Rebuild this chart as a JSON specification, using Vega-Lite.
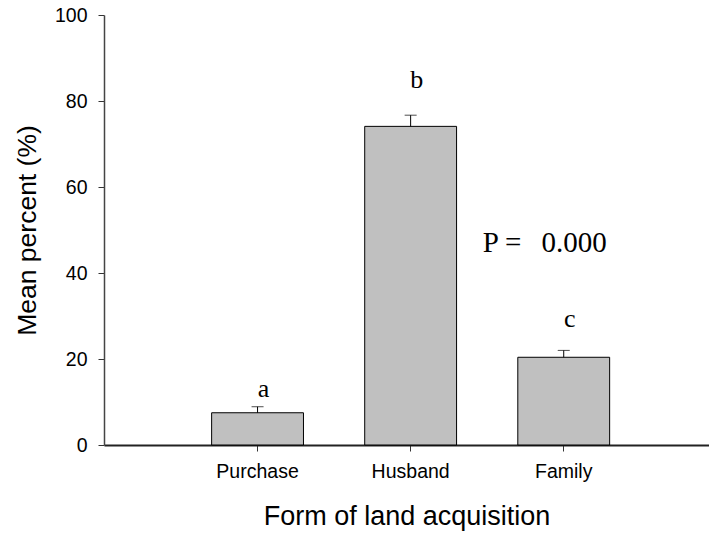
{
  "$schema": "https://vega.github.io/schema/vega-lite/v6.json",
  "width": 605,
  "height": 430,
  "autosize": {"type": "none"},
  "padding": {"left": 104, "top": 15, "right": 0, "bottom": 88},
  "background": "white",
  "config": {"view": {"stroke": null}},
  "data": {
    "values": [
      {"form": "Purchase", "mean": 7.5, "upper": 8.9, "letter": "a", "letterY": 11.2},
      {"form": "Husband", "mean": 74.1, "upper": 76.7, "letter": "b", "letterY": 83.1},
      {"form": "Family", "mean": 20.4, "upper": 22.0, "letter": "c", "letterY": 27.5}
    ]
  },
  "encoding": {
    "x": {
      "field": "form",
      "type": "nominal",
      "sort": null,
      "scale": {"paddingInner": 0.4, "paddingOuter": 0.676, "align": 0.52},
      "axis": {
        "title": "Form of land acquisition",
        "titleFont": "Liberation Sans",
        "titleFontSize": 27,
        "titleFontWeight": "normal",
        "titleColor": "black",
        "titlePadding": 23,
        "labelFont": "Liberation Sans",
        "labelFontSize": 19.5,
        "labelColor": "black",
        "labelAngle": 0,
        "labelPadding": 11,
        "tickSize": 6,
        "tickColor": "#333",
        "domainColor": "#222",
        "domainWidth": 2
      }
    }
  },
  "layer": [
    {
      "mark": {"type": "bar", "fill": "#c0c0c0", "stroke": "black", "strokeWidth": 1},
      "encoding": {
        "y": {
          "field": "mean",
          "type": "quantitative",
          "scale": {"domain": [0, 100], "nice": false},
          "axis": {
            "title": "Mean percent (%)",
            "titleFont": "Liberation Sans",
            "titleFontSize": 26.5,
            "titleFontWeight": "normal",
            "titleColor": "black",
            "titlePadding": 13,
            "labelFont": "Liberation Sans",
            "labelFontSize": 19.5,
            "labelColor": "black",
            "labelPadding": 11,
            "values": [0, 20, 40, 60, 80, 100],
            "tickSize": 6,
            "tickColor": "#333",
            "domainColor": "#444",
            "domainWidth": 1.5,
            "grid": false
          }
        }
      }
    },
    {
      "mark": {"type": "rule", "color": "black", "strokeWidth": 1},
      "encoding": {
        "y": {"field": "mean", "type": "quantitative"},
        "y2": {"field": "upper"}
      }
    },
    {
      "mark": {"type": "tick", "orient": "horizontal", "color": "black", "size": 12, "thickness": 1},
      "encoding": {
        "y": {"field": "upper", "type": "quantitative"}
      }
    },
    {
      "mark": {"type": "text", "font": "Liberation Serif", "fontSize": 26, "color": "black", "baseline": "alphabetic", "align": "center", "dx": 6},
      "encoding": {
        "y": {"field": "letterY", "type": "quantitative"},
        "text": {"field": "letter"}
      }
    },
    {
      "data": {"values": [{"form": "Husband", "py": 45, "ptext": "P =\u2002\u20090.000"}]},
      "mark": {"type": "text", "font": "Liberation Serif", "fontSize": 29, "color": "black", "baseline": "alphabetic", "align": "left", "dx": 72},
      "encoding": {
        "y": {"field": "py", "type": "quantitative"},
        "text": {"field": "ptext"}
      }
    }
  ]
}
